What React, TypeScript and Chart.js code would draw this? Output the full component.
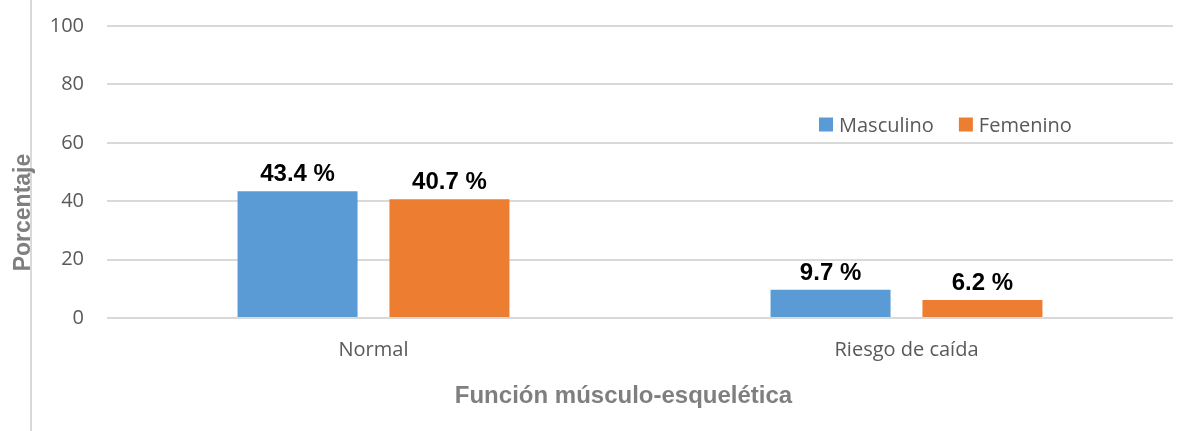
import React, { useEffect, useRef } from "react";
import { Chart, registerables } from "chart.js";

Chart.register(...registerables);

const categories = ["Normal", "Riesgo de caída"];
const seriesNames = ["Masculino", "Femenino"];
const masculino = [43.4, 9.7];
const femenino = [40.7, 6.2];
const yTicks = [0, 20, 40, 60, 80, 100];
const yTitle = "Porcentaje";
const xTitle = "Función músculo-esquelética";

const BLUE = "#5B9BD5";
const ORANGE = "#ED7D31";
const TICK_FONT = "'Open Sans', sans-serif";
const BOLD_FONT = "'Liberation Sans', Arial, sans-serif";

const overlayPlugin = {
  id: "overlay",
  beforeDraw(chart: any) {
    const ctx = chart.ctx;
    ctx.save();
    ctx.fillStyle = "#ffffff";
    ctx.fillRect(0, 0, chart.width, chart.height);
    ctx.strokeStyle = "#d9d9d9";
    ctx.lineWidth = 2;
    ctx.beginPath();
    ctx.moveTo(31, 0);
    ctx.lineTo(31, chart.height);
    ctx.stroke();
    ctx.restore();
  },
  afterDatasetsDraw(chart: any) {
    const ctx = chart.ctx;
    ctx.save();
    ctx.font = `bold 24px ${BOLD_FONT}`;
    ctx.fillStyle = "#000000";
    ctx.textAlign = "center";
    ctx.textBaseline = "alphabetic";
    chart.data.datasets.forEach((ds: any, di: number) => {
      const meta = chart.getDatasetMeta(di);
      meta.data.forEach((bar: any, i: number) => {
        const v = ds.data[i];
        ctx.fillText(`${v.toFixed(1)} %`, bar.x, bar.y - 10);
      });
    });
    ctx.restore();
  },
  afterDraw(chart: any) {
    const ctx = chart.ctx;
    ctx.save();
    // legend
    ctx.font = `20px ${TICK_FONT}`;
    ctx.textBaseline = "alphabetic";
    ctx.textAlign = "left";
    let x = 819;
    const colors = [BLUE, ORANGE];
    seriesNames.forEach((name, i) => {
      ctx.fillStyle = colors[i];
      ctx.fillRect(x, 117.5, 14, 14);
      ctx.fillStyle = "#595959";
      ctx.fillText(name, x + 20, 132);
      x += 20 + ctx.measureText(name).width + 25;
    });
    // axis titles
    ctx.fillStyle = "#7f7f7f";
    ctx.font = `bold 24px ${BOLD_FONT}`;
    ctx.textAlign = "center";
    ctx.fillText(xTitle, 623.5, 403);
    ctx.translate(30, 212.5);
    ctx.rotate(-Math.PI / 2);
    ctx.font = `bold 23px ${BOLD_FONT}`;
    ctx.fillText(yTitle, 0, 0);
    ctx.restore();
  },
};

export default function App() {
  const ref = useRef<HTMLCanvasElement | null>(null);

  useEffect(() => {
    if (!ref.current) return;
    const chart = new Chart(ref.current, {
      type: "bar",
      data: {
        labels: categories,
        datasets: [
          {
            label: seriesNames[0],
            data: masculino,
            backgroundColor: BLUE,
            categoryPercentage: 0.57,
            barPercentage: 0.79,
          },
          {
            label: seriesNames[1],
            data: femenino,
            backgroundColor: ORANGE,
            categoryPercentage: 0.57,
            barPercentage: 0.79,
          },
        ],
      },
      options: {
        responsive: false,
        animation: false,
        devicePixelRatio: 1,
        layout: { padding: { top: 26, right: 16, left: 0, bottom: 0 } },
        plugins: {
          legend: { display: false },
          tooltip: { enabled: false },
        },
        scales: {
          x: {
            grid: { display: false, drawTicks: false },
            border: { display: false },
            ticks: {
              color: "#595959",
              font: { family: TICK_FONT, size: 20 },
              padding: 20,
            },
            afterFit: (s: any) => {
              s.height = 113;
              s.paddingLeft = 0;
              s.paddingRight = 0;
            },
          },
          y: {
            min: 0,
            max: 100,
            afterBuildTicks: (s: any) => {
              s.ticks = yTicks.map((v) => ({ value: v }));
            },
            grid: { color: "#d9d9d9", lineWidth: 2, drawTicks: false },
            border: { display: false },
            ticks: {
              color: "#595959",
              font: { family: TICK_FONT, size: 20 },
              padding: 23,
            },
            afterFit: (s: any) => {
              s.width = 107;
              s.paddingTop = 0;
              s.paddingBottom = 0;
            },
          },
        },
      },
      plugins: [overlayPlugin],
    });
    return () => chart.destroy();
  }, []);

  return (
    <div style={{ position: "absolute", left: 0, top: 0, width: 1189, height: 431 }}>
      <canvas ref={ref} width={1189} height={431} style={{ display: "block" }} />
    </div>
  );
}
